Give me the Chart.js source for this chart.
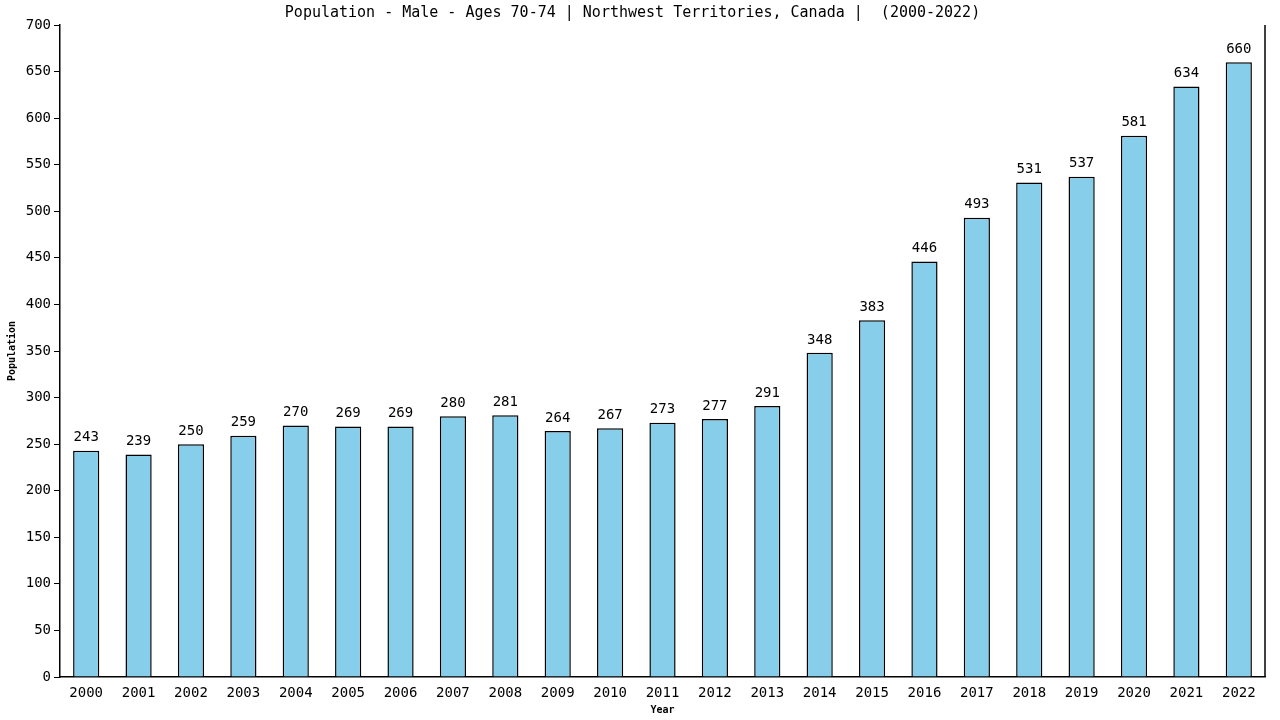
<!DOCTYPE html>
<html>
<head>
<meta charset="utf-8">
<script src="https://cdn.jsdelivr.net/npm/chart.js@4"></script>
<style>
  html, body { margin: 0; padding: 0; background: #fff; }
  #wrap { width: 1280px; height: 720px; }
</style>
</head>
<body>
<div id="wrap"><canvas id="chart" width="1280" height="720"></canvas></div>
<script>
const years = ['2000','2001','2002','2003','2004','2005','2006','2007','2008','2009','2010','2011',
  '2012','2013','2014','2015','2016','2017','2018','2019','2020','2021','2022'];
const population = [243, 239, 250, 259, 270, 269, 269, 280, 281, 264, 267, 273,
  277, 291, 348, 383, 446, 493, 531, 537, 581, 634, 660];

const monoFont = '"DejaVu Sans Mono", "Liberation Mono", monospace';

// value labels above each bar
const valueLabels = {
  id: 'valueLabels',
  afterDatasetsDraw(chart) {
    const ctx = chart.ctx;
    const meta = chart.getDatasetMeta(0);
    ctx.save();
    ctx.font = '14px ' + monoFont;
    ctx.fillStyle = '#000';
    ctx.textAlign = 'center';
    ctx.textBaseline = 'bottom';
    meta.data.forEach((bar, i) => {
      ctx.fillText(population[i], bar.x, bar.y - 6);
    });
    ctx.restore();
  }
};

// right edge line of the plot
const rightEdge = {
  id: 'rightEdge',
  afterDraw(chart) {
    const a = chart.chartArea;
    const ctx = chart.ctx;
    ctx.save();
    ctx.strokeStyle = '#000';
    ctx.lineWidth = 1.5;
    ctx.beginPath();
    ctx.moveTo(a.right, a.top);
    ctx.lineTo(a.right, a.bottom);
    ctx.stroke();
    ctx.restore();
  }
};

new Chart(document.getElementById('chart'), {
  type: 'bar',
  data: {
    labels: years,
    datasets: [{
      data: population,
      backgroundColor: '#87CEEB',
      borderColor: '#000',
      borderWidth: 1.5,
      categoryPercentage: 1,
      barPercentage: 0.5
    }]
  },
  options: {
    responsive: false,
    animation: false,
    layout: { padding: { left: 0, right: 15, top: 0, bottom: 0 } },
    plugins: {
      legend: { display: false },
      tooltip: { enabled: false },
      title: {
        display: true,
        text: 'Population - Male - Ages 70-74 | Northwest Territories, Canada |  (2000-2022)',
        color: '#000',
        font: { family: monoFont, size: 15, weight: 'normal' },
        padding: { top: 4, bottom: 3 }
      }
    },
    scales: {
      x: {
        grid: { display: false },
        border: { display: true, color: '#000', width: 1.5 },
        ticks: { color: '#000', font: { family: monoFont, size: 14 }, padding: 0, maxRotation: 0 },
        title: { display: true, text: 'Year', color: '#000', font: { family: monoFont, size: 10, weight: 'bold' }, padding: { top: 3, bottom: 4 } },
        afterFit(s) { s.height = 43; }
      },
      y: {
        min: 0,
        max: 700,
        grid: { drawOnChartArea: false, color: '#000', tickLength: 6, lineWidth: 1 },
        border: { display: true, color: '#000', width: 1.5 },
        ticks: { stepSize: 50, color: '#000', font: { family: monoFont, size: 14 }, padding: 3 },
        title: { display: true, text: 'Population', color: '#000', font: { family: monoFont, size: 10, weight: 'bold' }, padding: { top: 6, bottom: 0 } },
        afterFit(s) { s.width = 60; }
      }
    }
  },
  plugins: [valueLabels, rightEdge]
});
</script>
</body>
</html>
